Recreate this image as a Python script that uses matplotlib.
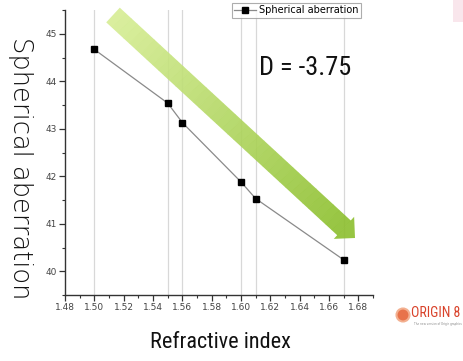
import numpy as np
import matplotlib
matplotlib.use("Agg")
import matplotlib.pyplot as plt
from matplotlib.patches import Polygon, Circle, Rectangle
from matplotlib.transforms import IdentityTransform
from matplotlib.ticker import MultipleLocator
from matplotlib import font_manager

# Data
refractive_index = [1.50, 1.55, 1.56, 1.60, 1.61, 1.67]
spherical_aberration = [44.67, 43.54, 43.13, 41.88, 41.53, 40.24]
series_name = "Spherical aberration"
annotation = "D = -3.75"
x_label = "Refractive index"
y_label = "Spherical aberration"

W, H, DPI = 464, 361, 100
fig = plt.figure(figsize=(W / DPI, H / DPI), dpi=DPI)
fig.patch.set_facecolor("white")

# pick a narrow face for the headline texts if one is available
names = {f.name for f in font_manager.fontManager.ttflist}
cond_family = None
for cand in ("Liberation Sans Narrow", "DejaVu Sans Condensed", "Roboto Condensed",
             "Open Sans Condensed"):
    if cand in names:
        cond_family = cand
        break
cond_kw = dict(family=cond_family) if cond_family else dict(family="DejaVu Sans", stretch="condensed")
has_cond = cond_family is not None or any(
    f.name == "DejaVu Sans" and str(f.stretch) in ("condensed", "semi-condensed")
    for f in font_manager.fontManager.ttflist)

ax = fig.add_axes([65 / W, 1 - 295 / H, (373 - 65) / W, (295 - 10) / H])
ax.set_xlim(1.48, 1.69)
ax.set_ylim(39.5, 45.5)

# vertical guide lines at each sample
for xv in refractive_index:
    ax.axvline(xv, color="#d8d8d8", lw=0.9, zorder=0)

ax.plot(refractive_index, spherical_aberration, color="#8a8a8a", lw=0.9,
        marker="s", ms=5, mfc="black", mec="black", label=series_name, zorder=3)

for s in ("top", "right"):
    ax.spines[s].set_visible(False)
for s in ("left", "bottom"):
    ax.spines[s].set_color("#333333")
    ax.spines[s].set_linewidth(1.0)

ax.xaxis.set_minor_locator(MultipleLocator(0.01))
ax.yaxis.set_major_locator(MultipleLocator(1))
ax.yaxis.set_minor_locator(MultipleLocator(0.5))
xt = np.round(np.arange(1.48, 1.681, 0.02), 2)
ax.set_xticks(xt)
ax.set_xticklabels([f"{v:.2f}" for v in xt])
ax.tick_params(which="major", length=4, width=0.9, color="#333333",
               labelsize=6.5, labelcolor="#444444", pad=2)
ax.tick_params(which="minor", length=2.5, width=0.8, color="#333333")

leg = ax.legend(loc="upper left", bbox_to_anchor=((232 - 65) / (373 - 65), 1 + 7 / 285),
                fontsize=7, frameon=True, fancybox=False, borderpad=0.25,
                handlelength=2.2, handletextpad=0.3, borderaxespad=0)
leg.get_frame().set_edgecolor("#999999")
leg.get_frame().set_linewidth(0.8)

# big annotation
fig.text(259 / W, 1 - 68 / H, annotation, fontsize=19 if has_cond else 16, **cond_kw,
         va="center", ha="left", color="#111111")

# axis titles
fig.text(20 / W, 1 - 168 / H, y_label, rotation=270, fontsize=18.5, family="DejaVu Sans",
         va="center", ha="center", color="#111111", fontweight="light")
fig.text(220 / W, 1 - 342 / H, x_label, fontsize=16 if has_cond else 13, **cond_kw,
         va="center", ha="center", color="#111111")

# green trend arrow drawn in pixel space
def px(x, y):
    return (x, H - y)

start = np.array([113.0, 15.0])
end = np.array([355.0, 238.0])
d = end - start
L = np.hypot(*d)
u = d / L
n = np.array([-u[1], u[0]])
half_w = 10.0
head_len = 15.0
head_half = 15.0
nseg = 40
c0 = np.array([0.84, 0.93, 0.58])
c1 = np.array([0.55, 0.75, 0.18])
body_len = L - head_len
for i in range(nseg):
    a = start + u * body_len * i / nseg
    b = start + u * body_len * (i + 1.05) / nseg
    pts = [a + n * half_w, b + n * half_w, b - n * half_w, a - n * half_w]
    t = i / (nseg - 1)
    col = c0 * (1 - t) + c1 * t
    fig.patches.append(Polygon([px(*p) for p in pts], closed=True, transform=IdentityTransform(),
                               facecolor=col, edgecolor="none", alpha=0.9, figure=fig, zorder=5))
base = start + u * body_len
head = [base + n * head_half, end, base - n * head_half]
fig.patches.append(Polygon([px(*p) for p in head], closed=True, transform=IdentityTransform(),
                           facecolor=c1, edgecolor="none", alpha=0.9, figure=fig, zorder=5))

# pink corner block
fig.patches.append(Rectangle((453 / W, 1 - 22 / H), 11 / W, 22 / H, transform=fig.transFigure,
                             facecolor="#f9e6ec", edgecolor="none", figure=fig))

# Origin 8 badge
fig.patches.append(Circle(px(403, 315), 6.5, transform=IdentityTransform(),
                          facecolor="#e8734a", edgecolor="#f3b090", lw=1.5, figure=fig))
fig.text(411 / W, 1 - 313 / H, "ORIGIN 8", fontsize=10 if has_cond else 7.5, **cond_kw,
         color="#d9432b", va="center", ha="left")
fig.text(414 / W, 1 - 324 / H, "The new version of Origin graphics", fontsize=2,
         color="#888888", va="center", ha="left")

fig.savefig("out.png", dpi=DPI)
